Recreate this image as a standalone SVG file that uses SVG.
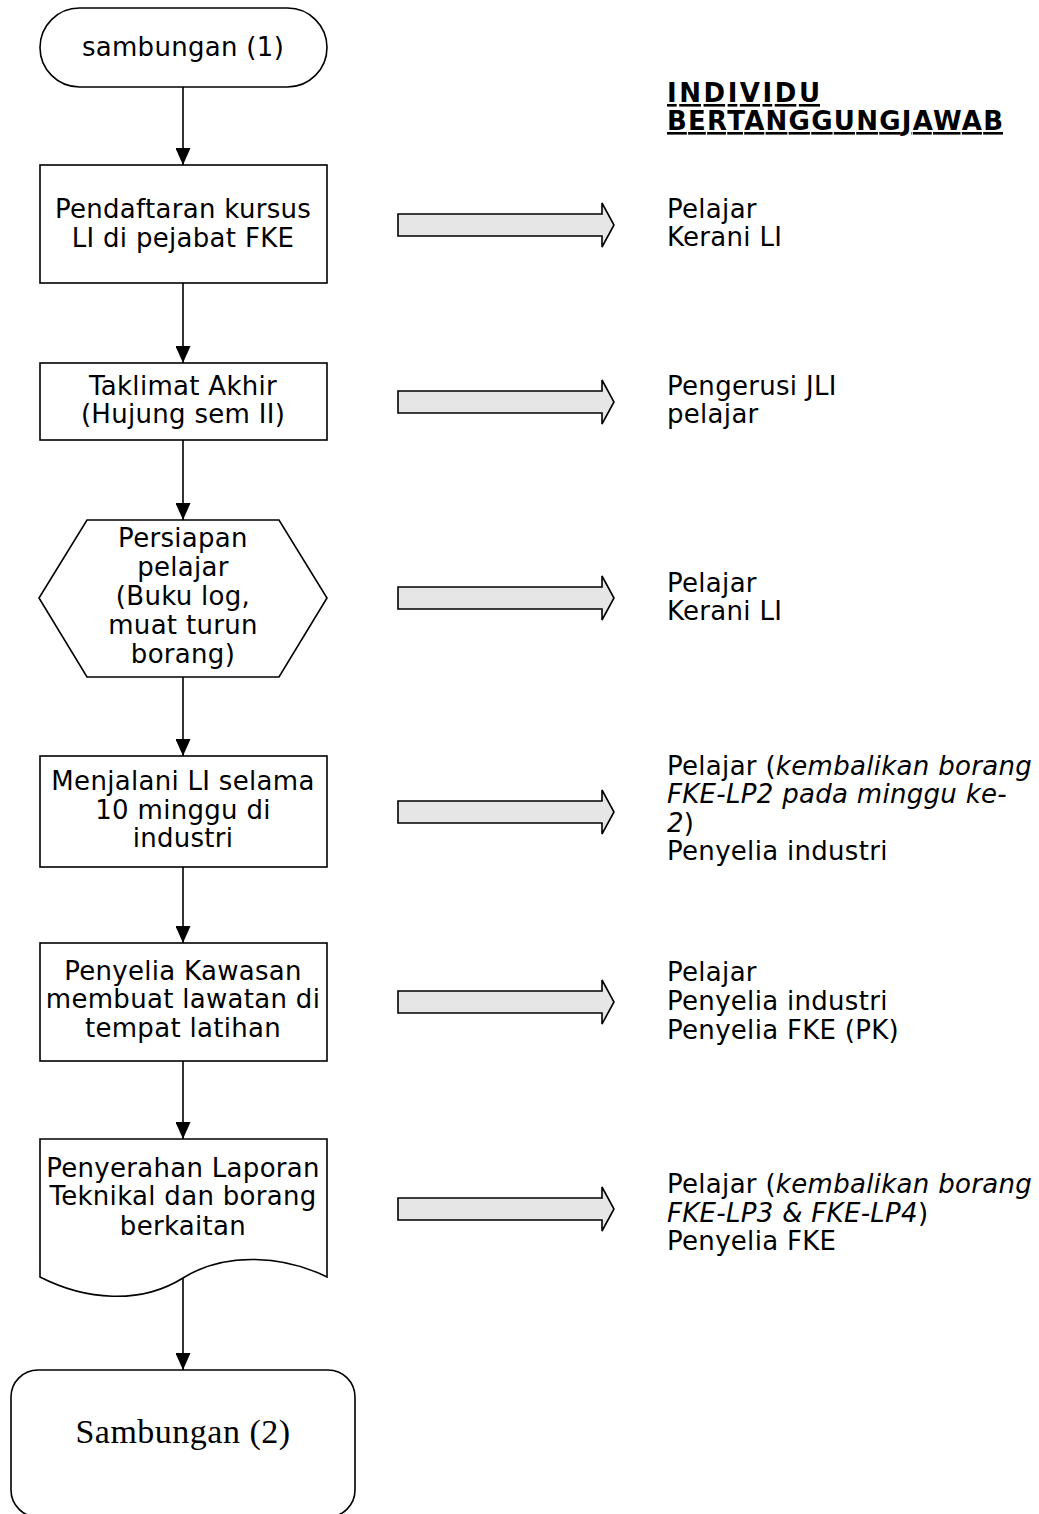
<svg xmlns="http://www.w3.org/2000/svg" width="1039" height="1514" viewBox="0 0 1039 1514">
<style>
.shape{fill:#ffffff;stroke:#000000;stroke-width:1.6}
.blk{fill:#e6e6e6;stroke:#000000;stroke-width:1.6;stroke-linejoin:miter}
.conn{stroke:#000000;stroke-width:1.6;fill:none}
.t{font-family:"DejaVu Sans","Verdana",sans-serif;font-size:26px;letter-spacing:0.3px;fill:#000000}
.c{text-anchor:middle}
.i{font-style:italic}
.h{font-family:"DejaVu Sans","Verdana",sans-serif;font-size:26px;font-weight:bold;fill:#000000;text-decoration:underline}
.serif{font-family:"Liberation Serif","Times New Roman",serif;font-size:34px;letter-spacing:0.5px;fill:#000000;text-anchor:middle}
</style>
<defs>
<marker id="ah" markerWidth="17" markerHeight="15" refX="17" refY="7.5" orient="auto" markerUnits="userSpaceOnUse">
<path d="M0,0 L17,7.5 L0,15 Z" fill="#000000"/>
</marker>
<path id="barrow" d="M0,-11 H204 V-22 L216,0 L204,22 V11 H0 Z"/>
</defs>
<rect width="1039" height="1514" fill="#ffffff"/>

<g id="connectors">
<line class="conn" x1="183" y1="87" x2="183" y2="165" marker-end="url(#ah)"/>
<line class="conn" x1="183" y1="283" x2="183" y2="363" marker-end="url(#ah)"/>
<line class="conn" x1="183" y1="440" x2="183" y2="520" marker-end="url(#ah)"/>
<line class="conn" x1="183" y1="677" x2="183" y2="756" marker-end="url(#ah)"/>
<line class="conn" x1="183" y1="867" x2="183" y2="943" marker-end="url(#ah)"/>
<line class="conn" x1="183" y1="1061" x2="183" y2="1139" marker-end="url(#ah)"/>
<line class="conn" x1="183" y1="1278" x2="183" y2="1370" marker-end="url(#ah)"/>
<use href="#barrow" class="blk" x="398" y="225"/>
<use href="#barrow" class="blk" x="398" y="402"/>
<use href="#barrow" class="blk" x="398" y="598"/>
<use href="#barrow" class="blk" x="398" y="812"/>
<use href="#barrow" class="blk" x="398" y="1002"/>
<use href="#barrow" class="blk" x="398" y="1209"/>
</g>

<g id="start">
<rect class="shape" x="40" y="8" width="287" height="79" rx="39.5" ry="39.5"/>
<text class="t c" x="183" y="56">sambungan (1)</text>
</g>

<g id="pendaftaran">
<rect class="shape" x="40" y="165" width="287" height="118"/>
<text class="t c" x="183" y="218">Pendaftaran kursus</text>
<text class="t c" x="183" y="247">LI di pejabat FKE</text>
</g>

<g id="taklimat">
<rect class="shape" x="40" y="363" width="287" height="77"/>
<text class="t c" x="183" y="395">Taklimat Akhir</text>
<text class="t c" x="183" y="423">(Hujung sem II)</text>
</g>

<g id="persiapan">
<polygon class="shape" points="87,520 279,520 327,598 279,677 87,677 39,598"/>
<text class="t c" x="183" y="547">Persiapan</text>
<text class="t c" x="183" y="576">pelajar</text>
<text class="t c" x="183" y="605">(Buku log,</text>
<text class="t c" x="183" y="634">muat turun</text>
<text class="t c" x="183" y="663">borang)</text>
</g>

<g id="menjalani">
<rect class="shape" x="40" y="756" width="287" height="111"/>
<text class="t c" x="183" y="790">Menjalani LI selama</text>
<text class="t c" x="183" y="819">10 minggu di</text>
<text class="t c" x="183" y="847">industri</text>
</g>

<g id="penyelia">
<rect class="shape" x="40" y="943" width="287" height="118"/>
<text class="t c" x="183" y="980">Penyelia Kawasan</text>
<text class="t c" x="183" y="1008">membuat lawatan di</text>
<text class="t c" x="183" y="1037">tempat latihan</text>
</g>

<g id="penyerahan">
<path class="shape" d="M40,1139 H327 V1277 C285,1256 226,1251 183,1278 C140,1305 85,1300 40,1277 Z"/>
<text class="t c" x="183" y="1177">Penyerahan Laporan</text>
<text class="t c" x="183" y="1205">Teknikal dan borang</text>
<text class="t c" x="183" y="1235">berkaitan</text>
</g>

<g id="end">
<rect class="shape" x="11" y="1370" width="344" height="147" rx="27" ry="27"/>
<text class="serif" x="183" y="1443">Sambungan (2)</text>
</g>

<g id="header">
<text class="h" x="667" y="102" textLength="153" lengthAdjust="spacing">INDIVIDU</text>
<text class="h" x="667" y="130" textLength="336" lengthAdjust="spacing">BERTANGGUNGJAWAB</text>
</g>

<g id="resp1">
<text class="t" x="667" y="218">Pelajar</text>
<text class="t" x="667" y="246">Kerani LI</text>
</g>
<g id="resp2">
<text class="t" x="667" y="395">Pengerusi JLI</text>
<text class="t" x="667" y="423">pelajar</text>
</g>
<g id="resp3">
<text class="t" x="667" y="592">Pelajar</text>
<text class="t" x="667" y="620">Kerani LI</text>
</g>
<g id="resp4">
<text class="t" x="667" y="775">Pelajar (<tspan class="i">kembalikan borang</tspan></text>
<text class="t i" x="667" y="803">FKE-LP2 pada minggu ke-</text>
<text class="t" x="667" y="832"><tspan class="i">2</tspan>)</text>
<text class="t" x="667" y="860">Penyelia industri</text>
</g>
<g id="resp5">
<text class="t" x="667" y="981">Pelajar</text>
<text class="t" x="667" y="1010">Penyelia industri</text>
<text class="t" x="667" y="1039">Penyelia FKE (PK)</text>
</g>
<g id="resp6">
<text class="t" x="667" y="1193">Pelajar (<tspan class="i">kembalikan borang</tspan></text>
<text class="t" x="667" y="1222"><tspan class="i">FKE-LP3 &amp; FKE-LP4</tspan>)</text>
<text class="t" x="667" y="1250">Penyelia FKE</text>
</g>
</svg>
